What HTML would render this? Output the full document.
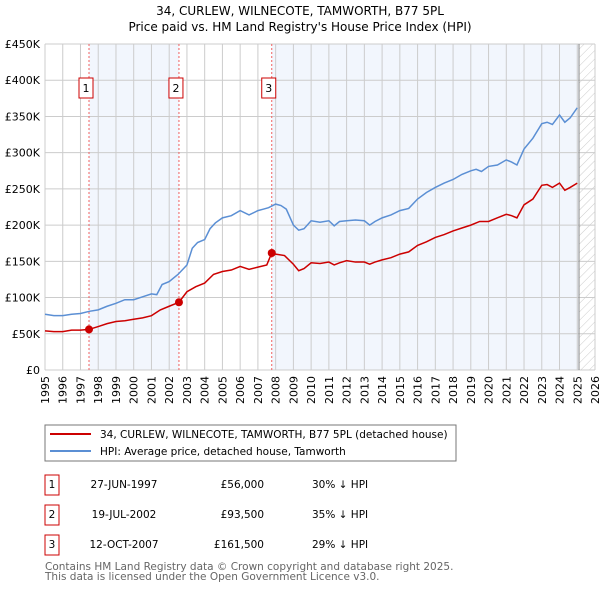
<!DOCTYPE html>
<html><head><meta charset="utf-8"><style>
body{margin:0;background:#fff;font-family:"DejaVu Sans","Liberation Sans",sans-serif;}
svg text{font-family:"DejaVu Sans","Liberation Sans",sans-serif;}
</style></head><body>
<svg id="c" width="600" height="590" xmlns="http://www.w3.org/2000/svg">
<defs><pattern id="hatch" width="6" height="6" patternUnits="userSpaceOnUse" patternTransform="rotate(45)"><rect width="6" height="6" fill="#fff"/><line x1="0" y1="0" x2="0" y2="6" stroke="#ccc" stroke-width="1"/></pattern></defs>
<text x="300" y="15" text-anchor="middle" font-size="12">34, CURLEW, WILNECOTE, TAMWORTH, B77 5PL</text>
<text x="300" y="31" text-anchor="middle" font-size="12">Price paid vs. HM Land Registry's House Price Index (HPI)</text>
<g id="plot"></g>
<rect x="45" y="425" width="411" height="36" fill="#fff" stroke="#777"/>
<line x1="50" y1="434" x2="91" y2="434" stroke="#cc0000" stroke-width="2"/>
<text x="100" y="438" font-size="10.5">34, CURLEW, WILNECOTE, TAMWORTH, B77 5PL (detached house)</text>
<line x1="50" y1="451" x2="91" y2="451" stroke="#5b8fd4" stroke-width="2"/>
<text x="100" y="455" font-size="10.5">HPI: Average price, detached house, Tamworth</text>
<g id="tbl" font-size="10.5"></g>
<text x="45" y="570" font-size="10.5" fill="#666">Contains HM Land Registry data © Crown copyright and database right 2025.</text>
<text x="45" y="580" font-size="10.5" fill="#666">This data is licensed under the Open Government Licence v3.0.</text>
</svg>
<script>
const hpiYears=[1995,1995.5,1996,1996.5,1997,1997.5,1998,1998.5,1999,1999.5,2000,2000.5,2001,2001.3,2001.6,2002,2002.5,2003,2003.3,2003.6,2004,2004.3,2004.6,2005,2005.5,2006,2006.5,2007,2007.3,2007.6,2008,2008.3,2008.6,2009,2009.3,2009.6,2010,2010.5,2011,2011.3,2011.6,2012,2012.5,2013,2013.3,2013.6,2014,2014.5,2015,2015.5,2016,2016.5,2017,2017.5,2018,2018.5,2019,2019.3,2019.6,2020,2020.5,2021,2021.3,2021.6,2022,2022.5,2023,2023.3,2023.6,2024,2024.3,2024.6,2025];
const hpiValues=[77,75,75,77,78,81,83,88,92,97,97,101,105,104,118,122,132,145,168,176,180,195,203,210,213,220,214,220,222,224,229,227,222,200,193,195,206,204,206,199,205,206,207,206,200,205,210,214,220,223,236,245,252,258,263,270,275,277,274,281,283,290,287,283,305,320,340,342,339,352,342,348,362];
const priceYears=[1995,1995.5,1996,1996.5,1997,1997.48,1998,1998.5,1999,1999.5,2000,2000.5,2001,2001.5,2002,2002.55,2003,2003.5,2004,2004.5,2005,2005.5,2006,2006.5,2007,2007.5,2007.78,2008,2008.5,2009,2009.3,2009.6,2010,2010.5,2011,2011.3,2011.6,2012,2012.5,2013,2013.3,2013.6,2014,2014.5,2015,2015.5,2016,2016.5,2017,2017.5,2018,2018.5,2019,2019.5,2020,2020.5,2021,2021.3,2021.6,2022,2022.5,2023,2023.3,2023.6,2024,2024.3,2024.6,2025];
const priceValues=[54,53,53,55,55,56,60,64,67,68,70,72,75,83,88,93.5,108,115,120,132,136,138,143,139,142,145,161.5,160,158,146,137,140,148,147,149,145,148,151,149,149,146,149,152,155,160,163,172,177,183,187,192,196,200,205,205,210,215,213,210,228,236,255,256,252,258,248,252,258];
const sales=[{x:1997.48,v:56,n:'1',d:'27-JUN-1997',p:'£56,000',h:'30% ↓ HPI'},{x:2002.55,v:93.5,n:'2',d:'19-JUL-2002',p:'£93,500',h:'35% ↓ HPI'},{x:2007.78,v:161.5,n:'3',d:'12-OCT-2007',p:'£161,500',h:'29% ↓ HPI'}];
const yTicks=[0,50,100,150,200,250,300,350,400,450];
const yLabels=['£0','£50K','£100K','£150K','£200K','£250K','£300K','£350K','£400K','£450K'];
const xTicks=[];for(let y=1995;y<=2026;y++)xTicks.push(y);
const L=45,R=595,T=44,B=370,X0=1995,X1=2026;
const xs=v=>L+(v-X0)/(X1-X0)*(R-L), ys=v=>B-v/450*(B-T);
const NS='http://www.w3.org/2000/svg',g=document.getElementById('plot');
function mk(t,a,p){const e=document.createElementNS(NS,t);for(const k in a)e.setAttribute(k,a[k]);(p||g).appendChild(e);return e;}
let e;
e=mk('rect',{x:L,y:T,width:R-L,height:B-T,fill:'#fff'});


e=mk('rect',{x:xs(sales[0].x),y:T,width:xs(sales[1].x)-xs(sales[0].x),height:B-T,fill:'#f2f6fd'});


e=mk('rect',{x:xs(sales[2].x),y:T,width:xs(2025.1)-xs(sales[2].x),height:B-T,fill:'#f2f6fd'});


e=mk('rect',{x:xs(2025.1),y:T,width:R-xs(2025.1),height:B-T,fill:'url(#hatch)'});


xTicks.forEach(y=>{e=mk('line',{x1:xs(y),x2:xs(y),y1:T,y2:B,stroke:'#ccc'});


e=mk('text',{x:0,y:0,'font-size':11,'text-anchor':'end',transform:`translate(${xs(y)+4},376) rotate(-90)`});e.textContent=y;

});
yTicks.forEach((v,i)=>{e=mk('line',{x1:L,x2:R,y1:ys(v),y2:ys(v),stroke:'#ccc'});


e=mk('text',{x:40,y:ys(v)+4,'font-size':11,'text-anchor':'end'});e.textContent=yLabels[i];

});
e=mk('line',{x1:xs(2025.1),x2:xs(2025.1),y1:T,y2:B,stroke:'#888'});


sales.forEach(s=>{e=mk('line',{x1:xs(s.x),x2:xs(s.x),y1:T,y2:B,stroke:'#f06060','stroke-dasharray':'2,2'});


e=mk('rect',{x:xs(s.x)-10,y:78,width:14,height:20,fill:'#fff',stroke:'#cc0000'});


e=mk('text',{x:xs(s.x)-3,y:92,'font-size':11,'text-anchor':'middle'});e.textContent=s.n;

});
e=mk('polyline',{points:hpiYears.map((y,i)=>xs(y)+','+ys(hpiValues[i])).join(' '),fill:'none',stroke:'#5b8fd4','stroke-width':1.5});


e=mk('polyline',{points:priceYears.map((y,i)=>xs(y)+','+ys(priceValues[i])).join(' '),fill:'none',stroke:'#cc0000','stroke-width':1.5});


sales.forEach(s=>{e=mk('circle',{cx:xs(s.x),cy:ys(s.v),r:4,fill:'#cc0000'});

});
const tb=document.getElementById('tbl');
sales.forEach((s,i)=>{const cy=483+i*30;
e=mk('rect',{x:45,y:cy-8,width:14,height:20,fill:'#fff',stroke:'#cc0000'},tb);


e=mk('text',{x:52,y:cy+5,'text-anchor':'middle'},tb);e.textContent=s.n;


e=mk('text',{x:124,y:cy+5,'text-anchor':'middle'},tb);e.textContent=s.d;


e=mk('text',{x:264,y:cy+5,'text-anchor':'end'},tb);e.textContent=s.p;


e=mk('text',{x:312,y:cy+5},tb);e.textContent=s.h;

});
</script>
</body></html>
